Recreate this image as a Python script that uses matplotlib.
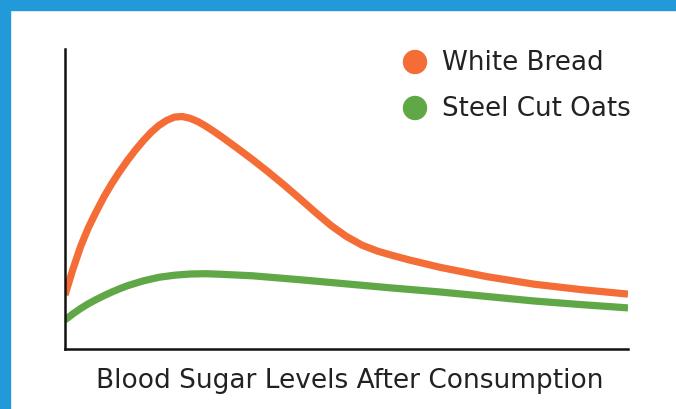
import matplotlib
matplotlib.use("Agg")
import matplotlib.pyplot as plt
from matplotlib.patches import Rectangle, Circle

# Data (time in minutes, relative blood sugar level)
t_bread = [0, 2.5, 5, 7.5, 10, 12.5, 15, 17.5, 20, 22.5, 25, 27.5, 30, 32.5, 35, 37.5, 40, 42.5,
           45, 47.5, 50, 55, 60, 65, 70, 75, 80, 85, 90, 95, 100, 105, 110, 120, 135, 150, 165, 180]
bread = [18, 26.5, 34.2, 40.5, 45.8, 50.8, 55.2, 59.2, 62.9, 66.3, 69.4, 72.2, 74.5, 76.2, 77.3, 77.5, 76.9, 75.8,
         74.3, 72.6, 70.8, 67.0, 63.1, 59.0, 54.7, 50.2, 45.6, 41.2, 37.5, 34.6, 32.6, 31.1, 29.7, 27.2, 24.1, 21.6,
         19.8, 18.3]
t_oats = [0, 2.5, 5, 7.5, 10, 12.5, 15, 17.5, 20, 25, 30, 35, 40, 45, 50, 60, 75, 90, 105, 120, 135, 150, 165, 180]
oats = [9.7, 11.7, 13.5, 15.1, 16.5, 17.8, 19, 20.1, 21.1, 22.7, 23.9, 24.6, 25, 25.1, 24.9, 24.4, 23.1, 21.7,
        20.3, 19, 17.5, 16, 14.8, 13.7]
series_names = ["White Bread", "Steel Cut Oats"]
xlabel = "Blood Sugar Levels After Consumption"

ORANGE = "#F46D36"
GREEN = "#60A847"
BLUE = "#229AD9"

W, H = 676, 410
fig = plt.figure(figsize=(W / 100, H / 100), dpi=100)
fig.patch.set_facecolor("white")

# blue frame (left and top)
fig.patches.append(Rectangle((0, 0), 10 / W, 1, transform=fig.transFigure, color=BLUE, zorder=0))
fig.patches.append(Rectangle((0, 1 - 11 / H), 1, 11 / H, transform=fig.transFigure, color=BLUE, zorder=0))

ax = fig.add_axes([65 / W, 60 / H, 563 / W, 300 / H])
ax.set_xlim(0, 180)
ax.set_ylim(0, 100)
ax.plot(t_bread, bread, color=ORANGE, lw=5.2, solid_capstyle="butt", solid_joinstyle="round")
ax.plot(t_oats, oats, color=GREEN, lw=5.2, solid_capstyle="butt", solid_joinstyle="round")
for s in ["top", "right"]:
    ax.spines[s].set_visible(False)
for s in ["left", "bottom"]:
    ax.spines[s].set_linewidth(1.8)
    ax.spines[s].set_color("#111111")
ax.set_xticks([])
ax.set_yticks([])

FONT = ["DejaVu Sans"]
fig.text(350 / W, 1 - 381 / H, xlabel, ha="center", va="center", fontsize=19,
         family=FONT, color="#222222")

# legend
for name, col, yc in [(series_names[0], ORANGE, 63), (series_names[1], GREEN, 109)]:
    fig.patches.append(Circle((415, H - yc), 11.5, transform=None, color=col))
    fig.text(442 / W, 1 - yc / H, name, ha="left", va="center", fontsize=18.8,
             family=FONT, color="#222222")

fig.savefig("out.png", dpi=100)
